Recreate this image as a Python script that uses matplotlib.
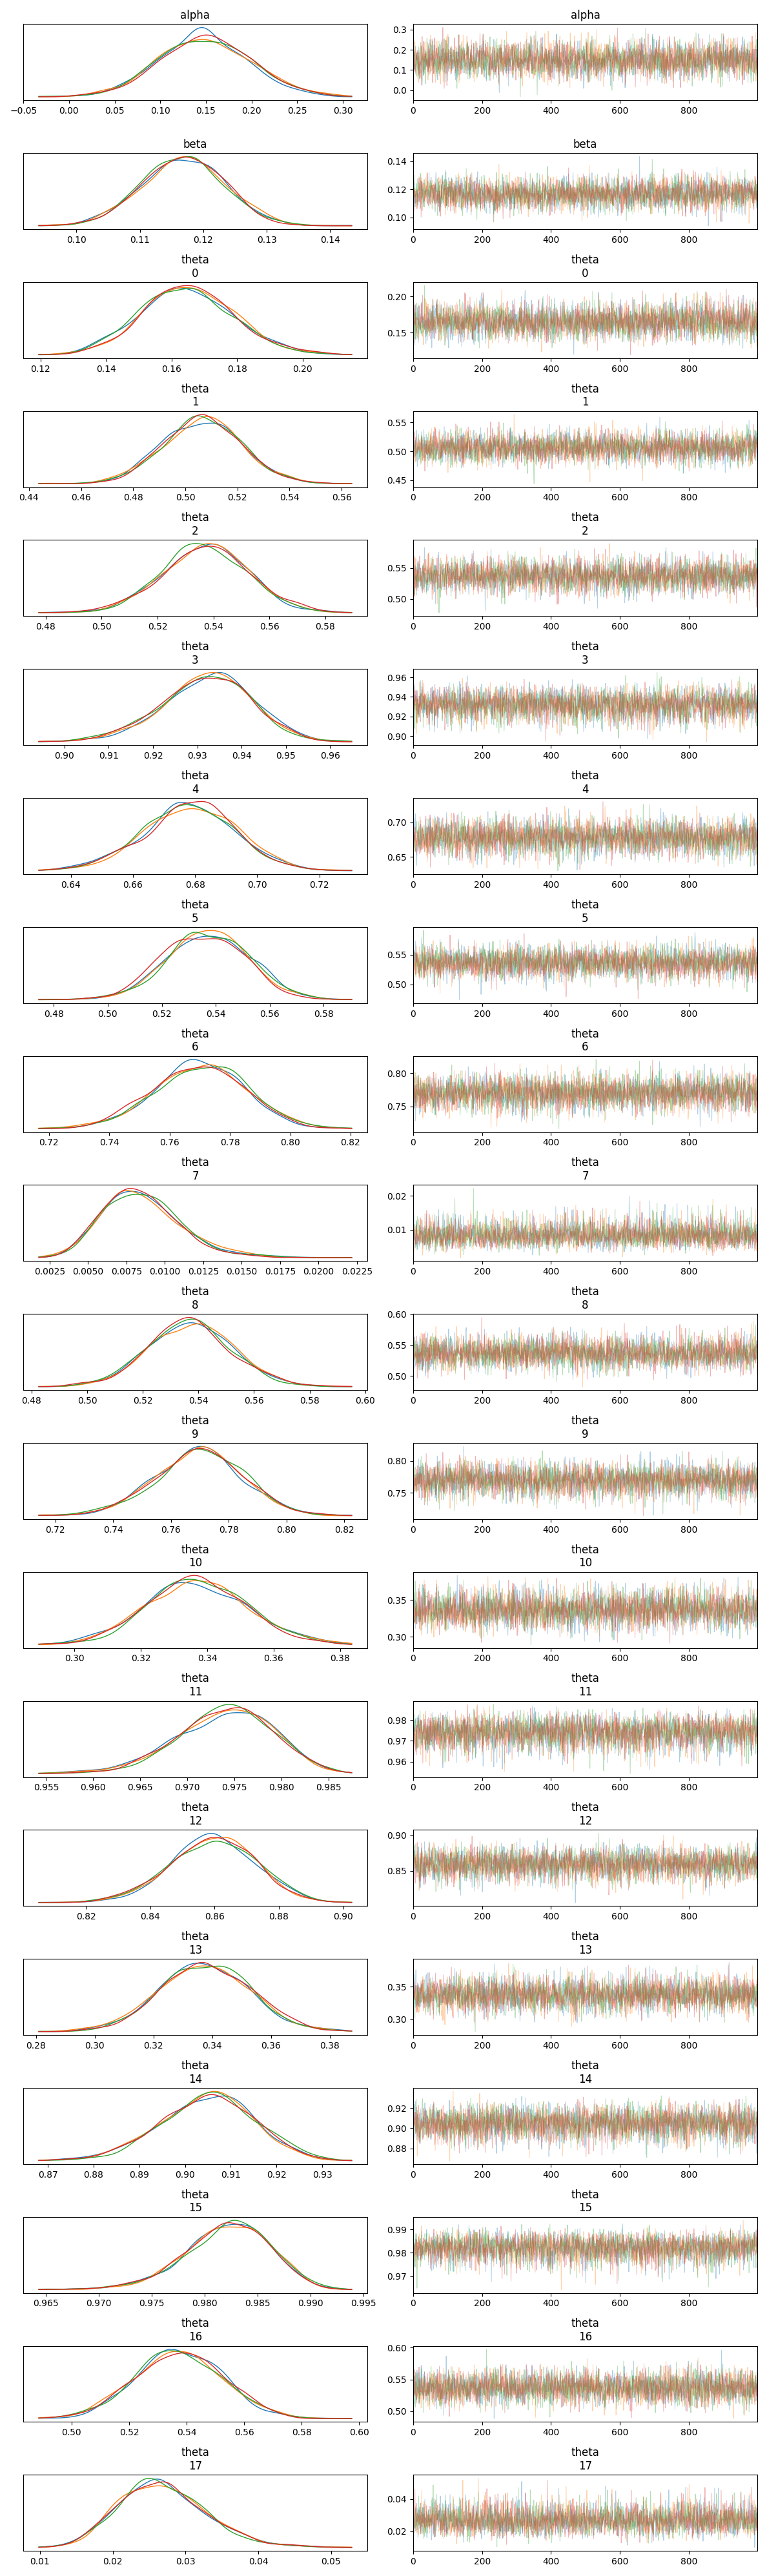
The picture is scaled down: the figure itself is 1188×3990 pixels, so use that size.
import numpy as np
import matplotlib
matplotlib.use("Agg")
import matplotlib.pyplot as plt

# variable names and posterior summaries
var_names = ["alpha", "beta"] + [f"theta\n{i}" for i in range(18)]
post_mean = [0.150, 0.117, 0.165, 0.507, 0.537, 0.932, 0.678, 0.537, 0.770, 0.0085,
             0.537, 0.770, 0.337, 0.974, 0.860, 0.337, 0.905, 0.982, 0.537, 0.027]
post_sd = [0.050, 0.0065, 0.014, 0.015, 0.015, 0.010, 0.015, 0.015, 0.015, 0.0025,
           0.015, 0.015, 0.015, 0.005, 0.013, 0.015, 0.010, 0.004, 0.015, 0.006]
is_prob = [False, False] + [True] * 18
n_chains = 4
n_draws = 1000
chain_colors = ["C0", "C1", "C2", "C3"]

# sampled draws (stand-in for MCMC output; seeded so the file is reproducible)
rng = np.random.default_rng(7)


def draws_for(m, s, prob):
    if prob:
        k = m * (1 - m) / s**2 - 1
        return rng.beta(m * k, (1 - m) * k, size=(n_chains, n_draws))
    return rng.normal(m, s, size=(n_chains, n_draws))


def kde(x, grid):
    bw = 1.06 * x.std() * len(x) ** (-0.2)
    z = (grid[:, None] - x[None, :]) / bw
    return np.exp(-0.5 * z**2).sum(axis=1) / (len(x) * bw * np.sqrt(2 * np.pi))


fig, axes = plt.subplots(len(var_names), 2, figsize=(11.88, 39.9))

for row, name in enumerate(var_names):
    samples = draws_for(post_mean[row], post_sd[row], is_prob[row])
    ax_k, ax_t = axes[row]
    lo, hi = samples.min(), samples.max()
    grid = np.linspace(lo, hi, 300)
    for c in range(n_chains):
        ax_k.plot(grid, kde(samples[c], grid), color=chain_colors[c], lw=1)
        ax_t.plot(np.arange(n_draws), samples[c], color=chain_colors[c], lw=0.7, alpha=0.35)
    ax_k.set_yticks([])
    ax_k.set_title(name)
    ax_t.set_title(name)
    ax_t.set_xlim(0, n_draws - 1)
    ax_t.set_xticks([0, 200, 400, 600, 800])
    ax_k.margins(x=0.05)

plt.tight_layout()
plt.savefig("out.png", dpi=100)
